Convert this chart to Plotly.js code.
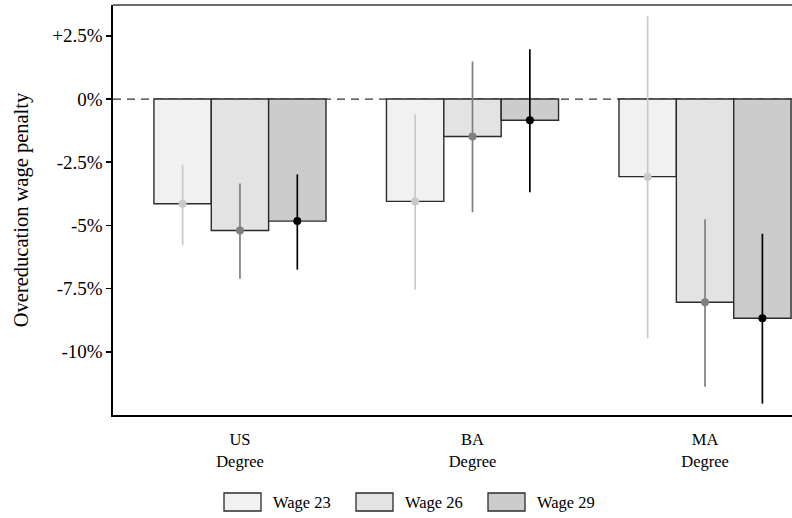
<!DOCTYPE html>
<html>
<head>
<meta charset="utf-8">
<script src="https://cdn.plot.ly/plotly-3.0.1.min.js"></script>
<style>html,body{margin:0;padding:0;background:#fff;}#chart{width:792px;height:518px;}</style>
</head>
<body>
<div id="chart"></div>
<script>
// Categories
const categories = ["US<br>Degree", "BA<br>Degree", "MA<br>Degree"];
// Series names
const seriesNames = ["Wage 23", "Wage 26", "Wage 29"];
// Point estimates (%)
const wage23 = [-4.14, -4.05, -3.07];
const wage26 = [-5.20, -1.48, -8.04];
const wage29 = [-4.83, -0.84, -8.67];
// Confidence interval upper bounds (%)
const wage23Upper = [-2.60, -0.60, 3.27];
const wage26Upper = [-3.34, 1.49, -4.76];
const wage29Upper = [-2.98, 1.97, -5.33];
// Confidence interval lower bounds (%)
const wage23Lower = [-5.79, -7.54, -9.46];
const wage26Lower = [-7.11, -4.48, -11.38];
const wage29Lower = [-6.75, -3.69, -12.05];
// Y tick values and labels
const yTickVals = [-10, -7.5, -5, -2.5, 0, 2.5];
const yTickText = ["-10%", "-7.5%", "-5%", "-2.5%", "0%", "+2.5%"];

const values = [wage23, wage26, wage29];
const uppers = [wage23Upper, wage26Upper, wage29Upper];
const lowers = [wage23Lower, wage26Lower, wage29Lower];
const fillColors = ["#f1f1f1", "#e3e3e3", "#cccccc"];
const pointColors = ["#c9c9c9", "#7f7f7f", "#000000"];
const groups = ["g1", "g2", "g3"];

const traces = [];
seriesNames.forEach((name, i) => {
  traces.push({
    type: "bar",
    name: name,
    x: categories,
    y: values[i],
    offsetgroup: groups[i],
    marker: {color: fillColors[i], line: {color: "#2b2b2b", width: 1.4}},
    showlegend: false,
    hoverinfo: "skip"
  });
});
seriesNames.forEach((name, i) => {
  traces.push({
    type: "scatter",
    mode: "markers",
    name: name,
    x: categories,
    y: values[i],
    offsetgroup: groups[i],
    marker: {color: pointColors[i], size: 8},
    error_y: {
      type: "data",
      symmetric: false,
      array: uppers[i].map((u, k) => u - values[i][k]),
      arrayminus: values[i].map((v, k) => v - lowers[i][k]),
      color: pointColors[i],
      thickness: 1.7,
      width: 0
    },
    showlegend: false,
    cliponaxis: false
  });
});

const font = "Liberation Serif, Times New Roman, serif";

// Custom legend (wide rectangles)
const shapes = [
  {type: "line", xref: "paper", yref: "y", x0: 0, x1: 1, y0: 0, y1: 0,
   line: {color: "#333333", width: 1.3, dash: "8px,6px"}, layer: "below"},
  {type: "line", xref: "paper", yref: "paper", x0: 0, x1: 1, y0: 1, y1: 1,
   line: {color: "#6b6b6b", width: 2}, layer: "above"}
];
const annotations = [];
const legX0 = [224, 356, 488];
seriesNames.forEach((name, i) => {
  const px0 = (legX0[i] - 113) / 679;
  const px1 = (legX0[i] + 37 - 113) / 679;
  shapes.push({type: "rect", xref: "paper", yref: "paper",
    x0: px0, x1: px1, y0: (415 - 493) / 410, y1: (415 - 511) / 410,
    fillcolor: fillColors[i], line: {color: "#2b2b2b", width: 1.3}});
  annotations.push({xref: "paper", yref: "paper", x: (legX0[i] + 47 - 113) / 679,
    y: (415 - 502) / 410, xanchor: "left", yanchor: "middle", showarrow: false,
    text: name, font: {family: font, size: 16.5, color: "#000"}});
});

const layout = {
  width: 792, height: 518,
  margin: {l: 113, r: 0, t: 5, b: 103},
  paper_bgcolor: "#ffffff", plot_bgcolor: "#ffffff",
  font: {family: font, color: "#000"},
  barmode: "group", bargap: 0.26, bargroupgap: 0,
  scattermode: "group", scattergap: 0.26,
  showlegend: false,
  xaxis: {
    type: "category",
    range: [-0.546, 2.374],
    showline: true, linecolor: "#000", linewidth: 1.6,
    ticks: "", showgrid: false, zeroline: false,
    tickfont: {family: font, size: 16.5, color: "#000"},
    ticklabelstandoff: 9,
    fixedrange: true
  },
  yaxis: {
    range: [-12.5, 3.72],
    tickvals: yTickVals, ticktext: yTickText,
    showline: true, linecolor: "#000", linewidth: 1.6,
    ticks: "outside", ticklen: 5, tickwidth: 1.5, tickcolor: "#000",
    showgrid: false, zeroline: false,
    tickfont: {family: font, size: 19, color: "#000"},
    title: {text: "Overeducation wage penalty", font: {family: font, size: 20.5, color: "#000"}, standoff: 18},
    fixedrange: true
  },
  shapes: shapes,
  annotations: annotations
};

Plotly.newPlot("chart", traces, layout, {displayModeBar: false, staticPlot: true});
</script>
</body>
</html>
